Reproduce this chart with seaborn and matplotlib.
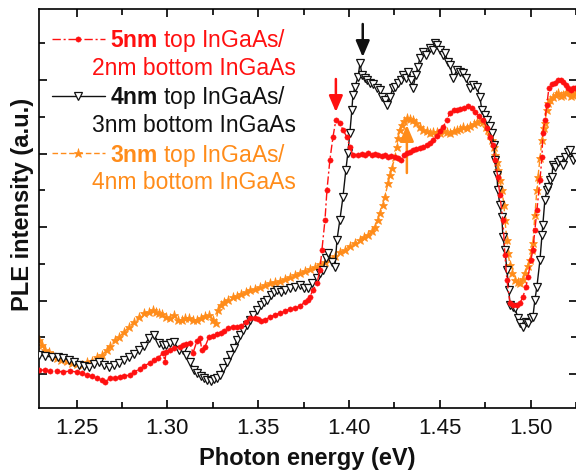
import numpy as np
import matplotlib
matplotlib.use("Agg")
import matplotlib.pyplot as plt
from matplotlib.ticker import MultipleLocator, AutoMinorLocator, FormatStrFormatter, NullFormatter
import seaborn as sns

# ---- PLE spectra (photon energy in eV, intensity in arbitrary units) ----
energy_5nm = [1.2293, 1.2326, 1.2353, 1.2392, 1.2425, 1.2463, 1.2502, 1.2530, 1.2557, 1.2585,
              1.2612, 1.2640, 1.2656, 1.2684, 1.2711, 1.2739, 1.2761, 1.2794, 1.2816, 1.2849,
              1.2871, 1.2904, 1.2926, 1.2948, 1.2976, 1.2987, 1.2992, 1.3014, 1.3036, 1.3069,
              1.3086, 1.3102, 1.3124, 1.3141, 1.3163, 1.3179, 1.3190, 1.3207, 1.3229, 1.3251,
              1.3273, 1.3295, 1.3312, 1.3334, 1.3361, 1.3383, 1.3405, 1.3433, 1.3455, 1.3482,
              1.3499, 1.3515, 1.3537, 1.3565, 1.3592, 1.3620, 1.3648, 1.3675, 1.3703, 1.3730,
              1.3758, 1.3774, 1.3785, 1.3802, 1.3824, 1.3840, 1.3851, 1.3868, 1.3879, 1.3895,
              1.3912, 1.3928, 1.3950, 1.3967, 1.3989, 1.4005, 1.4022, 1.4050, 1.4072, 1.4088,
              1.4105, 1.4127, 1.4143, 1.4160, 1.4182, 1.4198, 1.4215, 1.4231, 1.4253, 1.4270,
              1.4286, 1.4303, 1.4319, 1.4336, 1.4352, 1.4369, 1.4391, 1.4407, 1.4430, 1.4446,
              1.4463, 1.4485, 1.4501, 1.4518, 1.4540, 1.4556, 1.4578, 1.4595, 1.4611, 1.4633,
              1.4655, 1.4677, 1.4694, 1.4716, 1.4738, 1.4760, 1.4776, 1.4793, 1.4804, 1.4820,
              1.4831, 1.4848, 1.4859, 1.4870, 1.4887, 1.4903, 1.4925, 1.4942, 1.4958, 1.4975,
              1.4986, 1.5002, 1.5013, 1.5024, 1.5035, 1.5052, 1.5063, 1.5068, 1.5079, 1.5090,
              1.5101, 1.5118, 1.5134, 1.5151, 1.5167, 1.5178, 1.5195, 1.5206, 1.5222, 1.5233,
              1.5245]
ple_5nm = [5.0, 5.0, 4.9, 4.9, 4.8, 4.9, 4.8, 4.7, 4.5, 4.4,
           4.2, 4.0, 3.8, 4.2, 4.2, 4.3, 4.4, 4.5, 4.8, 5.1,
           5.4, 5.7, 6.0, 6.2, 6.7, 5.8, 6.8, 7.0, 7.2, 7.3,
           7.5, 7.6, 7.7, 6.7, 7.9, 8.2, 7.0, 7.3, 8.3, 8.4,
           8.6, 8.7, 8.9, 9.2, 9.3, 9.3, 9.4, 9.8, 10.2, 10.2,
           10.1, 9.9, 10.0, 10.3, 10.5, 10.7, 10.9, 11.1, 11.2, 11.4,
           11.8, 12.0, 12.3, 13.0, 13.7, 15.0, 17.0, 20.0, 23.0, 26.0,
           28.3, 30.0, 29.7, 29.0, 28.3, 27.3, 26.5, 26.5, 26.6, 26.5,
           26.7, 26.5, 26.6, 26.5, 26.4, 26.5, 26.3, 26.4, 26.3, 26.2,
           26.0, 26.5, 26.7, 26.8, 27.0, 27.1, 27.2, 27.3, 27.5, 27.7,
           28.0, 28.4, 28.9, 29.3, 30.0, 30.7, 31.0, 31.0, 31.1, 31.2,
           31.4, 31.2, 30.8, 30.4, 30.0, 29.2, 28.3, 27.5, 26.0, 24.3,
           22.5, 20.0, 16.5, 14.0, 11.7, 11.5, 11.5, 11.7, 12.3, 13.3,
           14.3, 16.0, 17.0, 19.0, 21.0, 24.0, 26.3, 28.7, 30.0, 31.5,
           33.2, 33.6, 33.7, 34.0, 34.0, 33.8, 33.5, 33.2, 33.0, 33.2,
           33.2]

energy_4nm = [1.2293, 1.2326, 1.2364, 1.2397, 1.2425, 1.2458, 1.2485, 1.2513, 1.2541, 1.2568,
              1.2596, 1.2623, 1.2651, 1.2678, 1.2706, 1.2733, 1.2761, 1.2788, 1.2816, 1.2844,
              1.2871, 1.2899, 1.2926, 1.2954, 1.2976, 1.2992, 1.3014, 1.3036, 1.3064, 1.3086,
              1.3102, 1.3124, 1.3146, 1.3163, 1.3185, 1.3201, 1.3218, 1.3240, 1.3256, 1.3273,
              1.3290, 1.3306, 1.3328, 1.3345, 1.3367, 1.3383, 1.3400, 1.3416, 1.3438, 1.3455,
              1.3471, 1.3493, 1.3515, 1.3532, 1.3548, 1.3570, 1.3587, 1.3603, 1.3625, 1.3648,
              1.3675, 1.3703, 1.3730, 1.3752, 1.3774, 1.3796, 1.3824, 1.3840, 1.3857, 1.3873,
              1.3884, 1.3906, 1.3923, 1.3934, 1.3950, 1.3967, 1.3983, 1.3994, 1.4005, 1.4016,
              1.4022, 1.4033, 1.4050, 1.4061, 1.4072, 1.4088, 1.4099, 1.4116, 1.4132, 1.4154,
              1.4171, 1.4182, 1.4198, 1.4209, 1.4226, 1.4242, 1.4253, 1.4270, 1.4286, 1.4297,
              1.4314, 1.4325, 1.4341, 1.4352, 1.4369, 1.4380, 1.4391, 1.4407, 1.4424, 1.4446,
              1.4463, 1.4474, 1.4485, 1.4501, 1.4518, 1.4529, 1.4545, 1.4556, 1.4573, 1.4595,
              1.4611, 1.4628, 1.4644, 1.4666, 1.4683, 1.4705, 1.4721, 1.4732, 1.4749, 1.4760,
              1.4776, 1.4787, 1.4798, 1.4804, 1.4815, 1.4820, 1.4831, 1.4842, 1.4848, 1.4859,
              1.4870, 1.4881, 1.4887, 1.4903, 1.4914, 1.4931, 1.4942, 1.4958, 1.4975, 1.4986,
              1.5002, 1.5013, 1.5024, 1.5035, 1.5052, 1.5063, 1.5068, 1.5079, 1.5090, 1.5096,
              1.5107, 1.5118, 1.5123, 1.5134, 1.5151, 1.5162, 1.5178, 1.5189, 1.5206, 1.5217,
              1.5233, 1.5245]
ple_4nm = [6.5, 6.4, 6.3, 6.3, 6.2, 6.0, 5.8, 5.5, 5.4, 5.3,
           5.6, 5.8, 5.5, 5.3, 5.5, 5.7, 6.0, 6.3, 6.6, 7.0,
           7.4, 8.2, 8.5, 7.7, 7.5, 7.5, 7.7, 7.8, 7.0, 7.0,
           6.5, 5.8, 5.0, 4.7, 4.4, 4.2, 4.0, 3.9, 4.1, 4.2,
           4.5, 5.2, 5.8, 6.5, 7.2, 8.0, 8.5, 9.0, 9.5, 10.0,
           10.5, 11.0, 11.5, 11.8, 12.0, 12.5, 12.8, 13.0, 12.8, 13.0,
           13.2, 13.3, 13.5, 13.2, 13.2, 13.7, 14.2, 14.7, 15.0, 16.2,
           16.7, 15.8, 15.3, 18.0, 20.0, 22.3, 25.0, 26.7, 28.7, 31.0,
           32.5, 33.3, 34.3, 35.7, 34.5, 34.2, 34.0, 33.7, 33.6, 33.2,
           33.0, 32.3, 32.0, 31.5, 32.3, 33.2, 33.3, 33.7, 34.0, 34.5,
           34.2, 34.8, 34.0, 33.2, 34.5, 35.3, 36.2, 36.8, 36.5, 37.2,
           37.0, 37.7, 37.5, 37.0, 36.5, 36.7, 35.8, 35.5, 34.2, 35.0,
           34.8, 34.7, 34.2, 33.2, 33.5, 33.3, 32.3, 31.0, 30.5, 30.0,
           29.4, 28.7, 27.5, 26.0, 24.5, 23.0, 21.5, 20.3, 18.3, 17.0,
           15.0, 13.0, 11.5, 11.3, 11.2, 10.2, 9.7, 9.3, 9.8, 9.7,
           10.2, 10.3, 12.0, 13.3, 16.0, 18.5, 19.5, 22.0, 23.0, 23.3,
           24.0, 24.3, 25.5, 25.3, 25.8, 26.0, 25.5, 26.3, 26.8, 27.0,
           26.0, 26.3]

energy_3nm = [1.2293, 1.2309, 1.2326, 1.2348, 1.2370, 1.2392, 1.2414, 1.2447, 1.2474, 1.2502,
              1.2530, 1.2557, 1.2585, 1.2612, 1.2640, 1.2667, 1.2684, 1.2711, 1.2733, 1.2761,
              1.2788, 1.2816, 1.2844, 1.2871, 1.2899, 1.2921, 1.2937, 1.2954, 1.2970, 1.2992,
              1.3014, 1.3036, 1.3058, 1.3080, 1.3097, 1.3119, 1.3141, 1.3163, 1.3185, 1.3207,
              1.3229, 1.3251, 1.3267, 1.3279, 1.3295, 1.3312, 1.3334, 1.3361, 1.3383, 1.3405,
              1.3433, 1.3455, 1.3482, 1.3510, 1.3537, 1.3565, 1.3592, 1.3620, 1.3648, 1.3675,
              1.3703, 1.3730, 1.3758, 1.3785, 1.3813, 1.3840, 1.3868, 1.3895, 1.3923, 1.3950,
              1.3978, 1.4005, 1.4033, 1.4061, 1.4083, 1.4105, 1.4127, 1.4143, 1.4160, 1.4171,
              1.4187, 1.4198, 1.4215, 1.4226, 1.4237, 1.4253, 1.4264, 1.4270, 1.4281, 1.4292,
              1.4303, 1.4319, 1.4336, 1.4352, 1.4369, 1.4391, 1.4407, 1.4430, 1.4446, 1.4463,
              1.4485, 1.4501, 1.4523, 1.4540, 1.4556, 1.4578, 1.4595, 1.4611, 1.4628, 1.4650,
              1.4666, 1.4688, 1.4705, 1.4721, 1.4738, 1.4754, 1.4765, 1.4776, 1.4787, 1.4798,
              1.4804, 1.4815, 1.4820, 1.4831, 1.4842, 1.4854, 1.4859, 1.4870, 1.4876, 1.4887,
              1.4898, 1.4914, 1.4931, 1.4942, 1.4958, 1.4969, 1.4986, 1.4997, 1.5008, 1.5013,
              1.5024, 1.5035, 1.5041, 1.5052, 1.5063, 1.5074, 1.5079, 1.5090, 1.5096, 1.5107,
              1.5123, 1.5140, 1.5151, 1.5167, 1.5178, 1.5195, 1.5206, 1.5222, 1.5233, 1.5245]
ple_3nm = [8.0, 7.5, 7.0, 6.8, 6.4, 6.2, 6.0, 5.9, 5.7, 5.6,
           5.5, 5.8, 5.9, 6.3, 6.5, 7.0, 7.4, 8.0, 8.3, 8.8,
           9.3, 9.8, 10.3, 10.7, 10.8, 11.0, 10.8, 10.7, 10.6, 10.3,
           10.2, 10.5, 10.0, 10.0, 10.2, 10.2, 10.0, 10.0, 10.2, 10.4,
           10.5, 10.0, 9.7, 11.0, 11.5, 11.8, 12.0, 12.3, 12.4, 12.6,
           12.8, 13.0, 13.1, 13.3, 13.5, 13.7, 13.8, 13.9, 14.1, 14.3,
           14.5, 14.7, 14.9, 15.1, 15.3, 15.6, 15.8, 16.1, 16.4, 16.8,
           17.0, 17.4, 17.7, 18.0, 18.3, 18.5, 18.9, 19.3, 20.0, 20.7,
           21.5, 22.3, 23.7, 24.5, 25.2, 26.3, 27.3, 28.2, 29.0, 29.5,
           29.9, 30.2, 30.1, 30.0, 29.7, 29.3, 29.0, 28.9, 28.7, 28.8,
           28.8, 28.7, 28.9, 28.8, 28.7, 28.9, 29.0, 29.1, 29.3, 29.2,
           29.4, 29.6, 29.8, 29.9, 29.8, 29.3, 29.0, 28.5, 28.0, 27.3,
           26.5, 25.8, 25.0, 24.0, 23.0, 21.5, 20.0, 18.0, 16.7, 15.5,
           14.7, 14.0, 13.8, 13.7, 14.1, 14.7, 15.4, 16.0, 17.0, 17.7,
           20.5, 23.0, 24.3, 26.2, 28.0, 29.2, 29.7, 31.0, 31.7, 32.0,
           32.3, 32.5, 32.7, 32.4, 32.5, 32.7, 32.8, 32.4, 32.5, 32.7]

RED = "#ff1010"
ORANGE = "#ff8c1a"
BLACK = "#111111"

sns.set_theme(style="ticks")
plt.rcParams.update({
    "font.family": ["Liberation Sans", "DejaVu Sans"],
    "mathtext.fontset": "custom",
    "mathtext.rm": "Liberation Sans",
    "mathtext.bf": "Liberation Sans:bold",
    "axes.linewidth": 1.2,
    "axes.edgecolor": "black",
    "xtick.direction": "in",
    "ytick.direction": "in",
})

fig = plt.figure(figsize=(5.76, 4.70), dpi=100)
ax = fig.add_axes([39 / 576, 1 - 407.7 / 470, 538 / 576, 398.7 / 470])

sns.lineplot(x=energy_3nm, y=ple_3nm, ax=ax, sort=False, estimator=None,
             color=ORANGE, lw=1.0, linestyle=(0, (4, 2)), marker="*", ms=6.5,
             mfc=ORANGE, mec=ORANGE, mew=0.5, label="3nm", zorder=2)
sns.lineplot(x=energy_4nm, y=ple_4nm, ax=ax, sort=False, estimator=None,
             color=BLACK, lw=1.0, linestyle="-", marker="v", ms=5.5,
             mfc="white", mec=BLACK, mew=0.9, label="4nm", zorder=3)
sns.lineplot(x=energy_5nm, y=ple_5nm, ax=ax, sort=False, estimator=None,
             color=RED, lw=1.0, linestyle=(0, (6, 2, 1.5, 2)), marker="o", ms=3.8,
             mfc=RED, mec=RED, mew=0.3, label="5nm", zorder=4)

ax.set_xlim(1.2293, 1.5256)
ax.set_ylim(1.23, 41.1)

ax.xaxis.set_major_locator(MultipleLocator(0.05))
ax.xaxis.set_minor_locator(AutoMinorLocator(2))
ax.xaxis.set_major_formatter(FormatStrFormatter("%.2f"))
ax.yaxis.set_major_locator(MultipleLocator(7.35, offset=4.6))
ax.yaxis.set_minor_locator(AutoMinorLocator(2))
ax.yaxis.set_major_formatter(NullFormatter())

ax.tick_params(axis="both", which="both", direction="in", top=True, right=True,
               color="black", width=1.2)
ax.tick_params(axis="both", which="major", length=6)
ax.tick_params(axis="both", which="minor", length=4)
ax.tick_params(axis="x", which="major", labelsize=16, pad=7.5, labelcolor="#111111")

ax.set_xlabel("Photon energy (eV)", fontsize=17, fontweight="bold", color="#111111")
ax.xaxis.set_label_coords(0.498, -0.099)
ax.set_ylabel("PLE intensity (a.u.)", fontsize=17, fontweight="bold", color="#111111")
ax.yaxis.set_label_coords(-0.01, 0.51)


def local_peak(e, p, lo, hi):
    e = np.asarray(e)
    p = np.asarray(p)
    sel = (e > lo) & (e < hi)
    i = np.argmax(np.where(sel, p, -np.inf))
    return e[i], p[i]


arrow = "-|>,head_length=0.75,head_width=0.32"
e_r, p_r = local_peak(energy_5nm, ple_5nm, 1.385, 1.40)
ax.annotate("", xy=(e_r, p_r + 0.8), xytext=(e_r, p_r + 4.1),
            arrowprops=dict(arrowstyle=arrow, color=RED, lw=1.8, mutation_scale=13,
                            shrinkA=0, shrinkB=0))
e_b, p_b = local_peak(energy_4nm, ple_4nm, 1.40, 1.42)
ax.annotate("", xy=(e_b + 0.0015, p_b + 0.6), xytext=(e_b + 0.0015, p_b + 3.9),
            arrowprops=dict(arrowstyle=arrow, color=BLACK, lw=1.8, mutation_scale=13,
                            shrinkA=0, shrinkB=0))
e_o, p_o = local_peak(energy_3nm, ple_3nm, 1.425, 1.44)
ax.annotate("", xy=(e_o, p_o - 0.7), xytext=(e_o, p_o - 5.5),
            arrowprops=dict(arrowstyle=arrow, color=ORANGE, lw=1.8, mutation_scale=13,
                            shrinkA=0, shrinkB=0))

# legend: first line of each entry with its handle, second line as plain text
handles, _ = ax.get_legend_handles_labels()
hmap = {h.get_label(): h for h in handles}
order = ["5nm", "4nm", "3nm"]
first_lines = [r"$\mathbf{5nm}$ top InGaAs/",
               r"$\mathbf{4nm}$ top InGaAs/",
               r"$\mathbf{3nm}$ top InGaAs/"]
second_lines = ["2nm bottom InGaAs", "3nm bottom InGaAs", "4nm bottom InGaAs"]
colors = [RED, BLACK, ORANGE]
leg = ax.legend([hmap[k] for k in order], first_lines, loc="upper left",
                bbox_to_anchor=(0.024, 0.956), frameon=False, fontsize=16.5,
                handlelength=2.3, handletextpad=0.22, labelspacing=1.33,
                borderpad=0, borderaxespad=0, labelcolor=colors)
for txt, y, c in zip(second_lines, [0.852, 0.707, 0.566], colors):
    ax.text(0.0985, y, txt, transform=ax.transAxes, fontsize=16.5, color=c,
            ha="left", va="center")

fig.savefig("out.png", dpi=100)
